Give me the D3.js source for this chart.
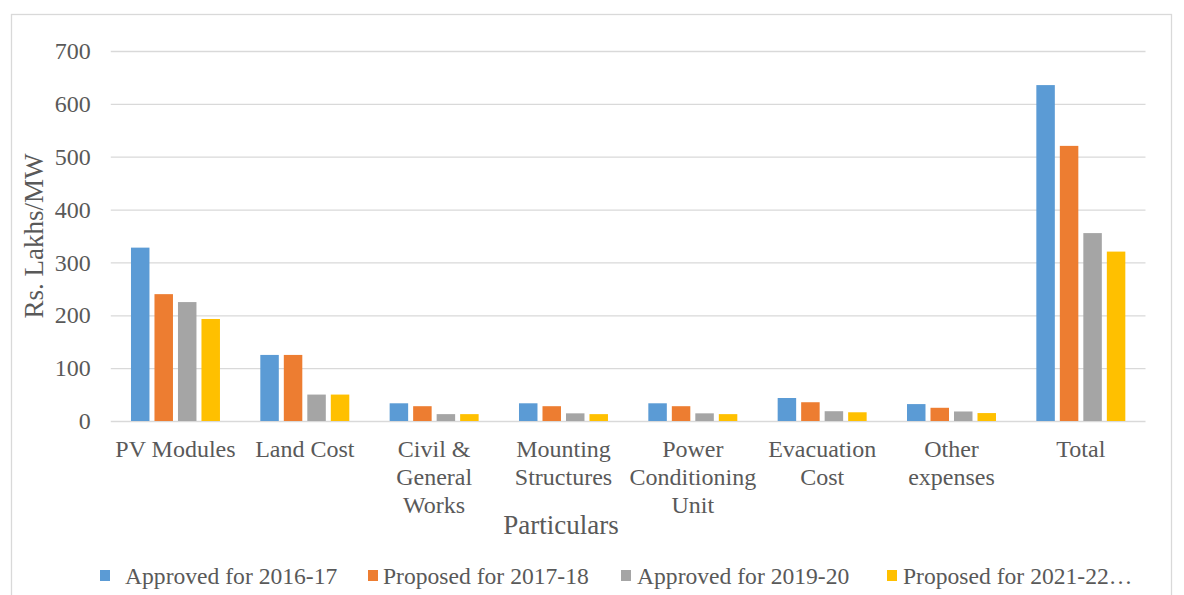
<!DOCTYPE html>
<html>
<head>
<meta charset="utf-8">
<script src="https://cdn.jsdelivr.net/npm/d3@7"></script>
<style>
  body { margin: 0; background: #fff; }
  text { font-family: "Liberation Serif", "Times New Roman", serif; fill: #595959; }
</style>
</head>
<body>
<div id="chart"></div>
<script>
// categories and series
const categories = ["PV Modules", "Land Cost", "Civil &\nGeneral\nWorks", "Mounting\nStructures",
    "Power\nConditioning\nUnit", "Evacuation\nCost", "Other\nexpenses", "Total"];
const seriesNames = ["Approved for 2016-17", "Proposed for 2017-18", "Approved for 2019-20", "Proposed for 2021-22\u2026"];
const approved1617 = [328, 125, 33.5, 33.5, 33.5, 43.5, 32, 635.5];
const proposed1718 = [240, 125, 28, 28, 28, 35.5, 25, 520.5];
const approved1920 = [225, 50, 13, 14.5, 14.5, 18.5, 18, 355.5];
const proposed2122 = [193, 50, 13, 13, 13, 16.5, 15, 320.5];
const yTicks = [0, 100, 200, 300, 400, 500, 600, 700];
const colors = ["#5b9bd5", "#ed7d31", "#a5a5a5", "#ffc000"];

const width = 1184,
    height = 595,
    margin = ({ top: 51, right: 38.5, bottom: 174, left: 110.8 }); // plot area

const series = [approved1617, proposed1718, approved1920, proposed2122];

const svg = d3.select("#chart")
    .append("svg")
    .attr("width", width)
    .attr("height", height);

// chart border
svg.append("rect")
    .attr("x", 11.5).attr("y", 14.5)
    .attr("width", 1160).attr("height", 600)
    .attr("fill", "none")
    .attr("stroke", "#d9d9d9")
    .attr("stroke-width", 1.3);

let x0 = d3.scaleBand()
    .domain(d3.range(categories.length))
    .range([margin.left, width - margin.right])
    .paddingInner(0.312)
    .paddingOuter(0.156);

let x1 = d3.scaleBand()
    .domain(d3.range(series.length))
    .range([0, x0.bandwidth()])
    .paddingInner(0.213);

let y = d3.scaleLinear()
    .domain([0, 700])
    .range([height - margin.bottom, margin.top]);

// gridlines + y labels
let yAxis = svg.append("g")
    .attr("transform", `translate(${margin.left},0)`)
    .call(d3.axisLeft(y).tickValues(yTicks).tickSize(-(width - margin.left - margin.right)).tickPadding(20));
yAxis.select(".domain").remove();
yAxis.selectAll("line").attr("stroke", "#d9d9d9").attr("stroke-width", 1.3);
yAxis.selectAll("text")
    .attr("font-size", 24)
    .attr("font-family", "Liberation Serif")
    .attr("fill", "#595959");

// bars
series.forEach((vals, s) => {
    svg.append("g")
        .selectAll("rect")
        .data(vals)
        .join("rect")
        .attr("x", (d, i) => x0(i) + x1(s))
        .attr("y", d => y(d))
        .attr("width", x1.bandwidth())
        .attr("height", d => y(0) - y(d))
        .attr("fill", colors[s]);
});

// category labels
categories.forEach((c, i) => {
    let t = svg.append("text")
        .attr("text-anchor", "middle")
        .attr("font-size", 24)
        .attr("x", x0(i) + x0.bandwidth() / 2)
        .attr("y", 457);
    c.split("\n").forEach((line, k) => {
        t.append("tspan")
            .attr("x", x0(i) + x0.bandwidth() / 2)
            .attr("dy", k === 0 ? 0 : 28)
            .text(line);
    });
});

// axis titles
svg.append("text")
    .attr("text-anchor", "middle")
    .attr("font-size", 27)
    .attr("x", 561)
    .attr("y", 534)
    .text("Particulars");

svg.append("text")
    .attr("text-anchor", "middle")
    .attr("font-size", 27)
    .attr("transform", `translate(43,${(y(0) + y(700)) / 2}) rotate(-90)`)
    .text("Rs. Lakhs/MW");

// legend (Excel spacing is uneven, so place each entry)
const legendX = [100, 368, 621, 887],
    legendGap = [25, 15, 16, 16];
seriesNames.forEach((name, s) => {
    svg.append("rect")
        .attr("x", legendX[s]).attr("y", 570)
        .attr("width", 10).attr("height", 11)
        .attr("fill", colors[s]);
    svg.append("text")
        .attr("font-size", 23.6)
        .attr("x", legendX[s] + legendGap[s])
        .attr("y", 584)
        .text(name);
});
</script>
</body>
</html>
